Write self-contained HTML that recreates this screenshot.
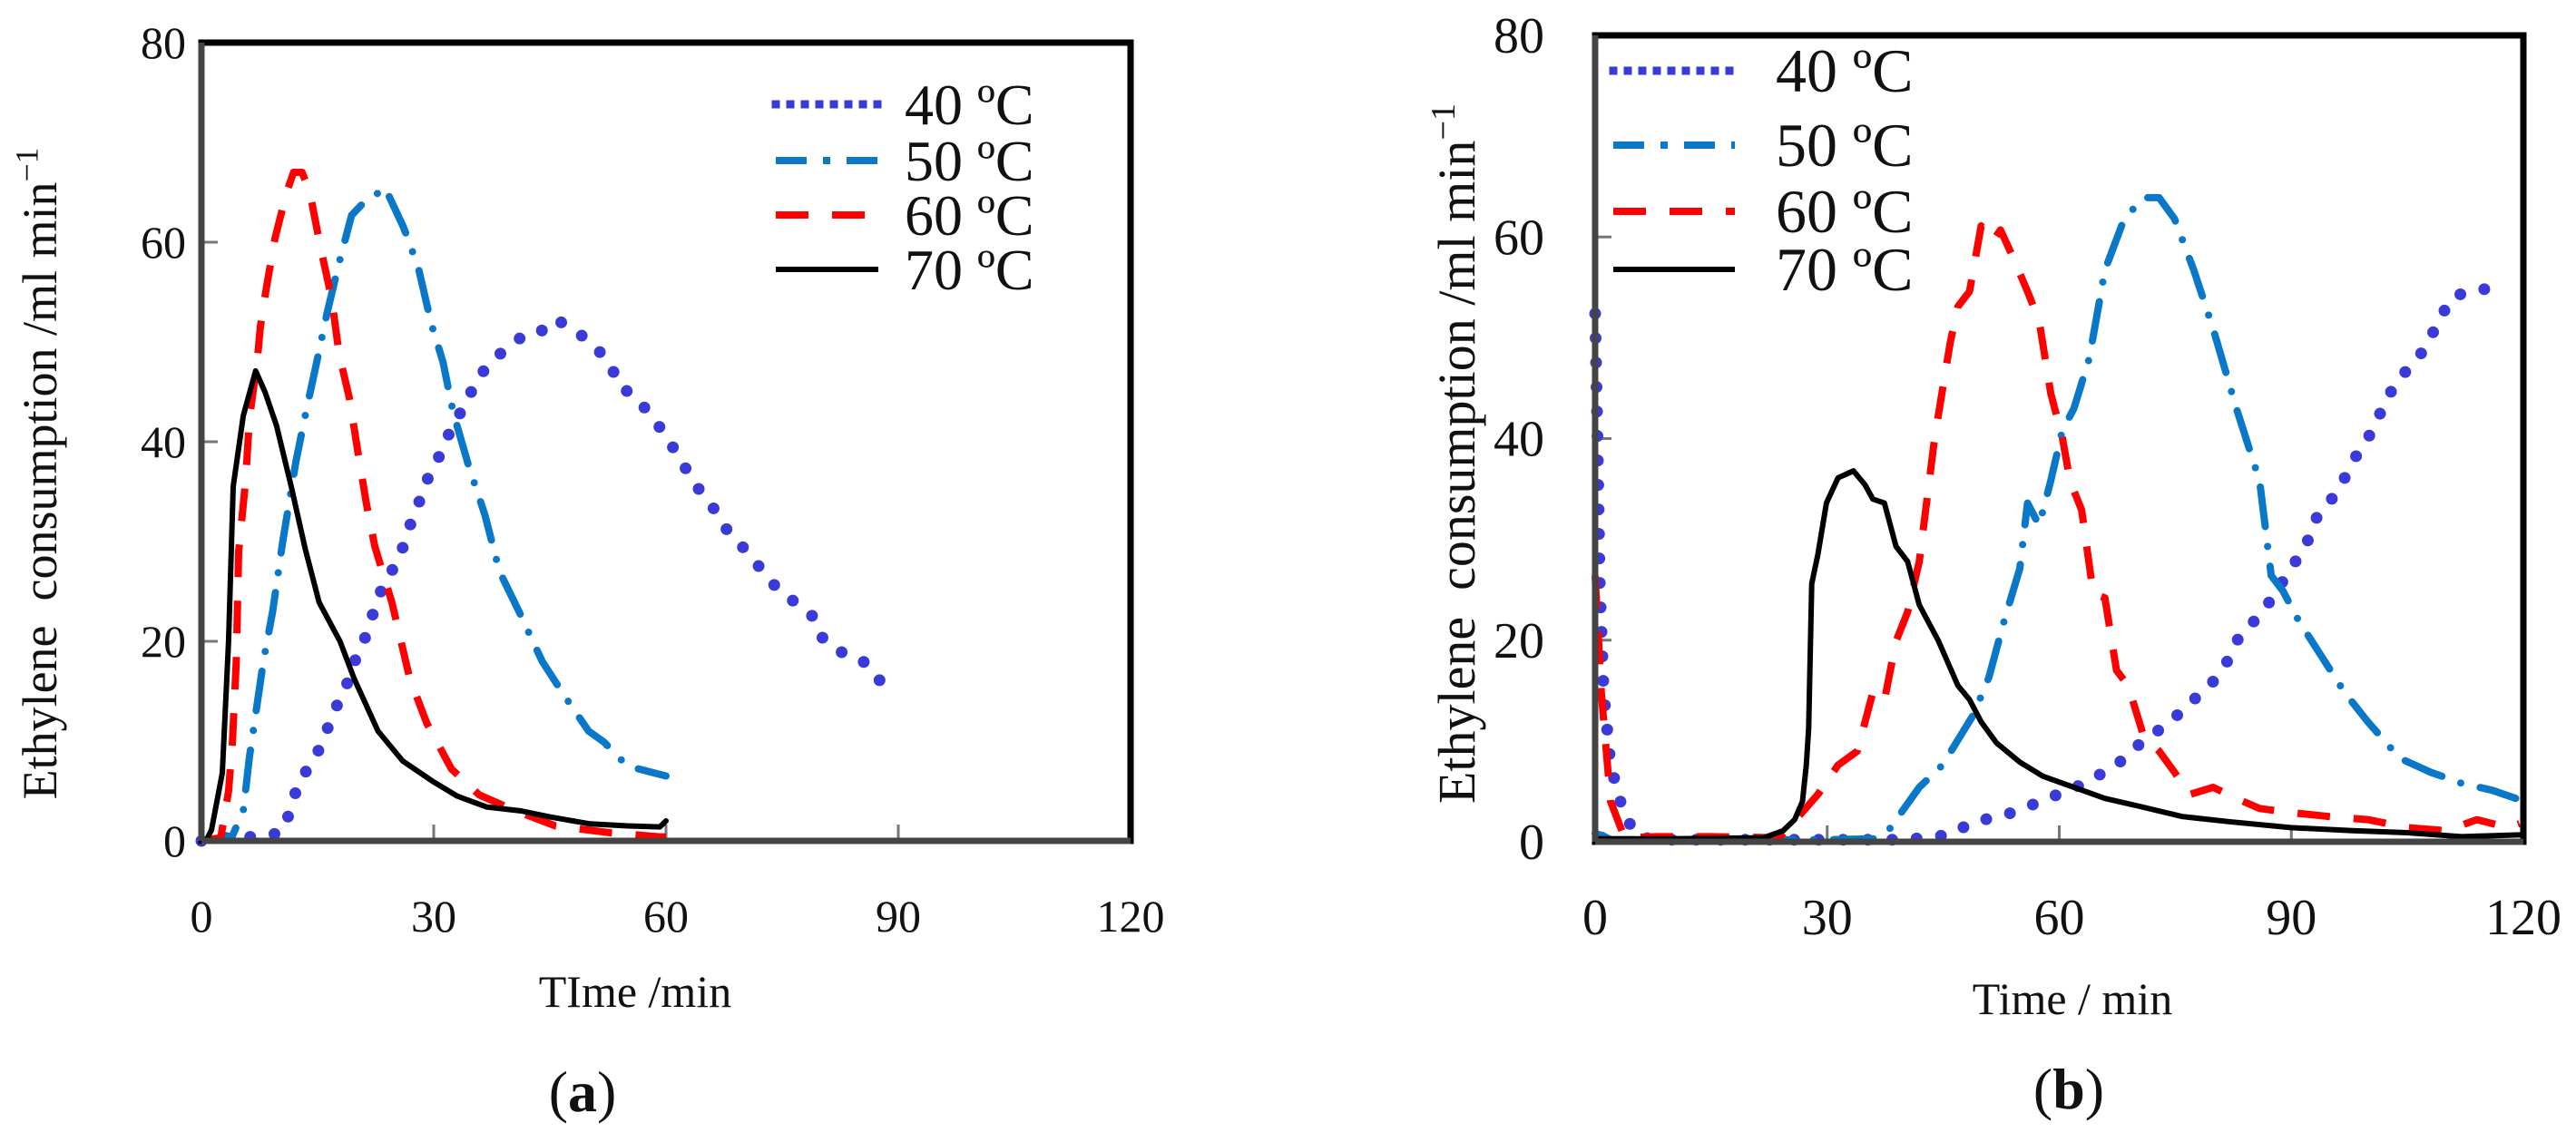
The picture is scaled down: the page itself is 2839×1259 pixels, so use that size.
<!DOCTYPE html>
<html><head><meta charset="utf-8"><style>
html,body{margin:0;padding:0;background:#fff;}
svg{display:block;font-family:"Liberation Serif",serif;}
</style></head><body>
<svg id="chart" width="2839" height="1259" viewBox="0 0 2839 1259" xmlns="http://www.w3.org/2000/svg">
<g id="pa"></g>
<g id="pb"></g>
</svg>
<script>
// ---- shared axis data ----
const xTicks = [0, 30, 60, 90, 120];
const yTicks = [0, 20, 40, 60, 80];
const legendLabels = ["40 ºC", "50 ºC", "60 ºC", "70 ºC"];
// ---- Panel (a) data ----
const a40x = [0,2,4.4,7,10.3,11.6,12.5,14.3,15.8,16.9,18.5,19.5,20.9,22,23.1,24.5,26,27.1,28.4,29.6,31.3,32.5,34.2,35.3,37.4,39.3,41.7,43.6,45.7,48.2,50.3,52.7,54,55.8,57.9,60,62,64,66,68,70.7,72.7,74.7,76.9,79.1,80.3,82.3,84.8,86.7,88.3];
const a40y = [0,0.2,0.4,0.4,0.8,3.2,5.9,7.8,10.1,12.7,15,17.5,19.8,22.4,24.9,26.9,29.4,32,34.5,37.1,39.3,42,43.6,46,48,49.3,50.7,50.9,52.3,51.2,49.9,48,45.5,44.7,42.8,40.6,38,35.5,33.5,31,28.8,26.8,25,23.8,22.4,20.2,19,18.4,17.2,15.2];
const a50x = [0,4,5.4,6.2,8,9.2,10.5,12.2,13.5,14.9,16.2,17.8,19.4,21,22.6,23.7,26.1,28,29.7,31.2,32.5,34.5,36.6,38.5,41,44,47,50,52,55,60];
const a50y = [0,0.5,3,8.4,18,23,30,38,43,48,52.8,58,62.7,64,64.8,65.5,61.5,57.5,51.8,48,43,37.6,32.7,27,23,18,14.4,11,9.9,7.5,6.5];
const a60x = [0,2.5,3.5,4,4.5,4.8,5.7,6.2,7.2,7.6,8.4,9.5,11,11.9,13,14,15.4,16.8,17.8,19.1,20.2,21.3,22.4,24.6,26.9,29.1,32.3,35.9,40.3,45.7,52.9,59.2,60];
const a60y = [0,0.3,5,9.8,18,29,36,42.3,48,51.5,55.5,60.4,65,67,67,65,59.4,54.4,48.7,44.4,39,33.8,29.5,23.9,16.3,11.8,7.2,4.6,3.1,1.5,0.8,0.4,0.4];
const a70x = [0,0.6,1.3,2.7,3.5,4.1,5.4,7,8.2,9.7,11.6,13.4,15.2,17.9,19.7,22.8,26,30,33,36.8,41.3,45,50.2,55,59.2,60];
const a70y = [0,0,1.1,6.8,20,35.5,42.6,47.1,45,41.6,35.5,29.3,23.9,20,16.3,11,8,5.9,4.5,3.4,3,2.4,1.7,1.5,1.4,2];
// ---- Panel (b) data ----
const b40x = [0,0.3,0.6,1.1,2,3.8,5.8,10,20,30,40,45.9,48.9,52.4,55.4,58.4,61.4,64.4,67.4,69.9,72.4,74.9,77.4,79.9,81.9,83.4,85.9,87.9,89.9,91.9,92.9,94.9,96.9,98.4,100.5,102,103.5,105.5,107.5,109,111,114,117];
const b40y = [52.4,40.1,25.6,14.8,7.6,2.5,0.4,0.2,0.2,0.2,0.2,0.7,2,2.5,3.3,4.3,5.1,6.3,7.6,9.4,10.8,12.3,14.1,15.9,18.1,20.6,22.4,24.6,27.1,29.3,31.8,33.6,36.1,38.3,40.8,43.4,45.5,47.3,49.1,51.7,54.2,54.6,55.3];
const b50x = [0,1,2,10,20,30,36,37.9,41.9,44.9,48.9,50.9,52.9,54.9,55.9,57.4,58.9,60.4,61.9,63.9,65.9,68.4,70.9,72.9,74.9,77.4,79.9,82.9,85.9,87.4,88.9,90.9,93.9,96.9,99.9,104,108,112,116,119];
const b50y = [0.8,0.6,0.2,0.2,0.2,0.2,0.3,1.1,5.4,7.6,12.6,16.3,22,27.1,33.6,31.4,35.8,40.8,43,48,56.7,61.8,63.9,63.9,61.8,56.7,50.9,43,35.8,26.4,24.9,22,18.4,14.8,11.9,8.3,6.9,5.8,5.1,4.3];
const b60x = [0,0.8,2,3.8,8,15,23.8,26.3,28.8,31.4,33.9,35.9,37.4,38.9,40.4,41.9,43.9,45.9,46.9,48.4,49.9,51.4,52.4,53.9,55.9,57.4,58.9,60.4,61.4,62.9,64.4,65.9,67.4,68.9,70.9,72.9,74.9,76.9,79.9,82.9,85.9,89.9,94.9,99.9,105,110,114,118,119.5];
const b60y = [26.4,14.8,4,0.4,0.5,0.5,0.4,2.5,4.7,7.6,9,14.8,14,19.9,22.8,27.8,40.1,49.5,53.1,54.6,61.1,59.6,60.7,58.2,54.6,51.7,44.5,40.1,35.8,32.9,24.6,24.2,17,15.5,10.5,9,6.9,4.7,5.4,4.3,3.3,2.9,2.5,2.2,1.4,1.1,2.2,1.4,1.8];
const b70x = [0,10,21.8,24.3,25.8,26.8,27.3,27.6,28,28.8,29.9,31.4,33.4,34.9,35.9,37.4,38.9,40.4,41.9,44.4,46.9,48.4,49.9,51.9,54.9,57.9,61.9,65.9,69.9,75.9,81.9,89.9,97.9,105,112,120];
const b70y = [0.3,0.3,0.4,1.1,2.2,4,7.6,11.2,25.6,28.5,33.6,36.1,36.8,35.4,34,33.6,29.3,27.8,23.5,19.9,15.5,14.1,11.9,9.8,7.9,6.5,5.4,4.3,3.6,2.5,2,1.4,1.1,0.9,0.5,0.7];

const NS = "http://www.w3.org/2000/svg";
function mk(tag, attrs, parent){const e=document.createElementNS(NS,tag);for(const k in attrs)e.setAttribute(k,attrs[k]);parent.appendChild(e);return e;}

const styles = [
  {stroke:"#3a3ad8", width:13, dash:"0 27", cap:"round"},
  {stroke:"#0a78c8", width:8, dash:"44 22 0 22", cap:"round"},
  {stroke:"#ff0000", width:8, dash:"36 26", cap:"butt"},
  {stroke:"#000000", width:6, dash:"none", cap:"round"}
];
const legDash = ["0 16","34 18 8 18","36 26","none"];

function panel(g, box, series, opt){
  const sx = v => box.x0 + (v/120)*(box.x1-box.x0);
  const sy = v => box.y0 - (v/80)*(box.y0-box.y1);
  for(const t of yTicks){
    if(t>0 && t<80){const tk=mk("line",{x1:box.x0,x2:box.x0+18,y1:sy(t),y2:sy(t),stroke:"#777","stroke-width":3},g);
    
    }
    const lb=mk("text",{x:opt.yLabX,y:sy(t)+opt.tickFs*0.34,"text-anchor":"end","font-size":opt.tickFs,fill:"#111"},g);
    lb.textContent=t;
    
    
  }
  for(const t of xTicks){
    if(t>0 && t<120){const tk=mk("line",{x1:sx(t),x2:sx(t),y1:box.y0,y2:box.y0-18,stroke:"#777","stroke-width":3},g);
    
    }
    const lb=mk("text",{x:sx(t),y:opt.xLabY,"text-anchor":"middle","font-size":opt.tickFs,fill:"#111"},g);
    lb.textContent=t;
    
    
  }
  series.forEach((s,i)=>{
    const st=styles[i];
    const d=s[0].map((x,j)=>(j?"L":"M")+sx(x).toFixed(1)+" "+sy(s[1][j]).toFixed(1)).join(" ");
    const p=mk("path",{d:d,fill:"none",stroke:st.stroke,"stroke-width":st.width,"stroke-dasharray":st.dash,"stroke-linecap":st.cap,"stroke-linejoin":"round"},g);
    
    
  });
  const fr=mk("rect",{x:box.x0,y:box.y1,width:box.x1-box.x0,height:box.y0-box.y1,fill:"none",stroke:"#000","stroke-width":7},g);
  
  
  mk("line",{x1:box.x0,x2:box.x1,y1:box.y0,y2:box.y0,stroke:"#444","stroke-width":7},g);
  mk("line",{x1:box.x0,x2:box.x0,y1:box.y0,y2:box.y1,stroke:"#444","stroke-width":7},g);
  legendLabels.forEach((lab,i)=>{
    const st=styles[i];const y=opt.legY[i];
    const ln=mk("line",{x1:opt.legX0,x2:opt.legX1,y1:y,y2:y,stroke:st.stroke,"stroke-width":i==0?9:st.width,"stroke-dasharray":legDash[i],"stroke-linecap":i==0?"square":"butt"},g);
    
    
    const tx=mk("text",{x:opt.legTx,y:y+opt.legFs*0.34,"font-size":opt.legFs,fill:"#111"},g);
    tx.textContent=lab;
    
    
  });
  const yt=mk("text",{x:0,y:0,"text-anchor":"middle","font-size":opt.yTitleFs,fill:"#111",transform:`translate(${opt.yTitleX},${opt.yTitleY}) rotate(-90)`},g);
  yt.innerHTML='Ethylene&#160; consumption /ml min<tspan dy="-'+(opt.yTitleFs*0.38)+'" font-size="'+(opt.yTitleFs*0.66)+'">−1</tspan>';
  
  
  const xt=mk("text",{x:opt.xTitleX,y:opt.xTitleY,"text-anchor":"middle","font-size":50,fill:"#111"},g);
  xt.textContent=opt.xTitle;
  
  
  const cap=mk("text",{x:opt.capX,y:opt.capY,"text-anchor":"middle","font-size":64,fill:"#111"},g);
  cap.innerHTML='(<tspan font-weight="bold">'+opt.cap+'</tspan>)';
  
  
}

panel(document.getElementById("pa"), {x0:222,x1:1246,y0:927,y1:47},
  [[a40x,a40y],[a50x,a50y],[a60x,a60y],[a70x,a70y]],
  {tickFs:50,yLabX:205,xLabY:1027,legX0:855,legX1:968,legTx:997,legFs:64,legY:[115,177,237,297],
   yTitleFs:54,yTitleX:62,yTitleY:522,xTitle:"TIme /min",xTitleX:700,xTitleY:1110,cap:"a",capX:642,capY:1225});
panel(document.getElementById("pb"), {x0:1758,x1:2781,y0:928,y1:39},
  [[b40x,b40y],[b50x,b50y],[b60x,b60y],[b70x,b70y]],
  {tickFs:56,yLabX:1702,xLabY:1030,legX0:1778,legX1:1912,legTx:1957,legFs:68,legY:[78,160,233,297],
   yTitleFs:58,yTitleX:1625,yTitleY:500,xTitle:"Time / min",xTitleX:2284,xTitleY:1118,cap:"b",capX:2280,capY:1222});
</script>
</body></html>
